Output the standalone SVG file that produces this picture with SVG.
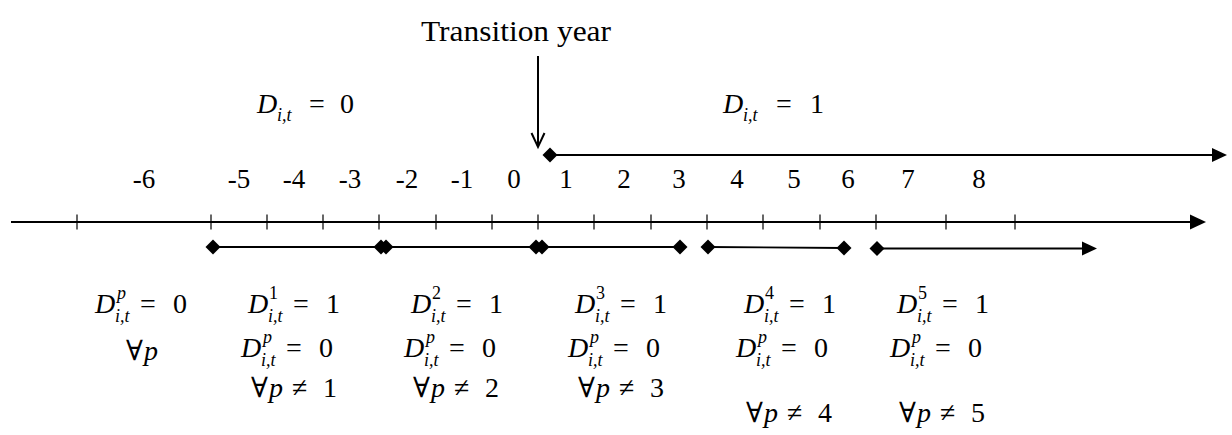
<svg xmlns="http://www.w3.org/2000/svg" width="1232" height="435" viewBox="0 0 1232 435">
<defs>
<style>
.bg{fill:#ffffff}
.ln{stroke:#000;stroke-width:2;fill:none}
.seg{stroke:#000;stroke-width:1.8;fill:none}
.tk{stroke:#000;stroke-width:1.2}
.hd{fill:#000;stroke:none}
.t{font-family:"Liberation Serif","Times New Roman",serif;font-size:30px;fill:#000}
.num{font-family:"Liberation Serif","Times New Roman",serif;font-size:27px;fill:#000;text-anchor:middle}
.m{font-family:"Liberation Serif","DejaVu Serif",serif;font-size:28px;fill:#000}
.i{font-style:italic}
.s{font-size:18px}
</style>
<polygon id="dia" points="-7.5,0 0,-7.5 7.5,0 0,7.5"/>
</defs>
<rect class="bg" x="0" y="0" width="1232" height="435"/>

<g id="title">
<text class="t" x="421" y="41" textLength="190" lengthAdjust="spacingAndGlyphs">Transition year</text>
</g>

<g id="top-labels">
<text class="m"><tspan class="i" x="257" y="113">D</tspan><tspan class="i s" x="277" y="121">i,t</tspan><tspan x="309" y="113">=</tspan><tspan x="340" y="113">0</tspan></text>
<text class="m"><tspan class="i" x="723" y="113">D</tspan><tspan class="i s" x="743" y="121">i,t</tspan><tspan x="776" y="113">=</tspan><tspan x="810" y="113">1</tspan></text>
</g>

<g id="year-numbers">
<text class="num" x="144" y="188">-6</text>
<text class="num" x="239" y="188">-5</text>
<text class="num" x="294" y="188">-4</text>
<text class="num" x="350" y="188">-3</text>
<text class="num" x="407" y="188">-2</text>
<text class="num" x="462" y="188">-1</text>
<text class="num" x="514" y="188">0</text>
<text class="num" x="566" y="188">1</text>
<text class="num" x="624" y="188">2</text>
<text class="num" x="679" y="188">3</text>
<text class="num" x="737" y="188">4</text>
<text class="num" x="794" y="188">5</text>
<text class="num" x="848" y="188">6</text>
<text class="num" x="908" y="188">7</text>
<text class="num" x="979" y="188">8</text>
</g>

<g id="connectors">
<line class="ln" x1="538" y1="56" x2="538" y2="146"/>
<polyline class="ln" points="531.5,133 538,147 544.5,133"/>
<line class="ln" x1="550" y1="155" x2="1214" y2="155"/>
<polygon class="hd" points="1212,148 1227,155 1212,162"/>
<use href="#dia" x="550" y="155"/>
<line class="ln" x1="11" y1="222" x2="1192" y2="222"/>
<polygon class="hd" points="1190,214.5 1206,222 1190,229.5"/>
<g id="ticks">
<line class="tk" x1="77" y1="214.5" x2="77" y2="229.5"/>
<line class="tk" x1="211" y1="214.5" x2="211" y2="229.5"/>
<line class="tk" x1="267" y1="214.5" x2="267" y2="229.5"/>
<line class="tk" x1="323" y1="214.5" x2="323" y2="229.5"/>
<line class="tk" x1="379" y1="214.5" x2="379" y2="229.5"/>
<line class="tk" x1="436" y1="214.5" x2="436" y2="229.5"/>
<line class="tk" x1="492" y1="214.5" x2="492" y2="229.5"/>
<line class="tk" x1="538" y1="214.5" x2="538" y2="229.5"/>
<line class="tk" x1="594" y1="214.5" x2="594" y2="229.5"/>
<line class="tk" x1="651" y1="214.5" x2="651" y2="229.5"/>
<line class="tk" x1="707" y1="214.5" x2="707" y2="229.5"/>
<line class="tk" x1="763" y1="214.5" x2="763" y2="229.5"/>
<line class="tk" x1="820" y1="214.5" x2="820" y2="229.5"/>
<line class="tk" x1="876" y1="214.5" x2="876" y2="229.5"/>
<line class="tk" x1="946" y1="214.5" x2="946" y2="229.5"/>
<line class="tk" x1="1015" y1="214.5" x2="1015" y2="229.5"/>
</g>
<line class="seg" x1="213" y1="247" x2="381" y2="247"/>
<use href="#dia" x="213" y="247"/><use href="#dia" x="381" y="247"/>
<line class="seg" x1="386" y1="247" x2="536" y2="247"/>
<use href="#dia" x="386" y="247"/><use href="#dia" x="536" y="247"/>
<line class="seg" x1="542" y1="247" x2="680" y2="247"/>
<use href="#dia" x="542" y="247"/><use href="#dia" x="680" y="247"/>
<line class="seg" x1="708" y1="247" x2="844" y2="248"/>
<use href="#dia" x="708" y="247"/><use href="#dia" x="844" y="248"/>
<line class="seg" x1="877" y1="248.5" x2="1084" y2="248.5"/>
<use href="#dia" x="877" y="248.5"/>
<polygon class="hd" points="1082,241.5 1097,248.5 1082,255.5"/>
</g>

<g id="period-0">
<text class="m"><tspan class="i" x="95" y="313">D</tspan><tspan class="i s" x="117" y="299">p</tspan><tspan class="i s" x="115" y="322">i,t</tspan><tspan x="140" y="313">=</tspan><tspan x="173" y="313">0</tspan></text>
<text class="m"><tspan x="126" y="360">∀</tspan><tspan class="i" x="144" y="360">p</tspan></text>
</g>

<g id="period-1">
<text class="m"><tspan class="i" x="248" y="313">D</tspan><tspan class="s" x="269" y="299">1</tspan><tspan class="i s" x="268" y="322">i,t</tspan><tspan x="293" y="313">=</tspan><tspan x="326" y="313">1</tspan></text>
<text class="m"><tspan class="i" x="241" y="357">D</tspan><tspan class="i s" x="263" y="343">p</tspan><tspan class="i s" x="261" y="366">i,t</tspan><tspan x="286" y="357">=</tspan><tspan x="319" y="357">0</tspan></text>
<text class="m"><tspan x="251" y="397">∀</tspan><tspan class="i" x="269" y="397">p</tspan><tspan x="292" y="397">≠</tspan><tspan x="323" y="397">1</tspan></text>
</g>

<g id="period-2">
<text class="m"><tspan class="i" x="411" y="313">D</tspan><tspan class="s" x="432" y="299">2</tspan><tspan class="i s" x="431" y="322">i,t</tspan><tspan x="456" y="313">=</tspan><tspan x="489" y="313">1</tspan></text>
<text class="m"><tspan class="i" x="404" y="357">D</tspan><tspan class="i s" x="426" y="343">p</tspan><tspan class="i s" x="424" y="366">i,t</tspan><tspan x="449" y="357">=</tspan><tspan x="482" y="357">0</tspan></text>
<text class="m"><tspan x="413" y="397">∀</tspan><tspan class="i" x="431" y="397">p</tspan><tspan x="454" y="397">≠</tspan><tspan x="485" y="397">2</tspan></text>
</g>

<g id="period-3">
<text class="m"><tspan class="i" x="575" y="313">D</tspan><tspan class="s" x="596" y="299">3</tspan><tspan class="i s" x="595" y="322">i,t</tspan><tspan x="620" y="313">=</tspan><tspan x="653" y="313">1</tspan></text>
<text class="m"><tspan class="i" x="568" y="357">D</tspan><tspan class="i s" x="590" y="343">p</tspan><tspan class="i s" x="588" y="366">i,t</tspan><tspan x="613" y="357">=</tspan><tspan x="646" y="357">0</tspan></text>
<text class="m"><tspan x="578" y="397">∀</tspan><tspan class="i" x="596" y="397">p</tspan><tspan x="619" y="397">≠</tspan><tspan x="650" y="397">3</tspan></text>
</g>

<g id="period-4">
<text class="m"><tspan class="i" x="744" y="313">D</tspan><tspan class="s" x="765" y="299">4</tspan><tspan class="i s" x="764" y="322">i,t</tspan><tspan x="789" y="313">=</tspan><tspan x="822" y="313">1</tspan></text>
<text class="m"><tspan class="i" x="736" y="357">D</tspan><tspan class="i s" x="758" y="343">p</tspan><tspan class="i s" x="756" y="366">i,t</tspan><tspan x="781" y="357">=</tspan><tspan x="814" y="357">0</tspan></text>
<text class="m"><tspan x="746" y="422">∀</tspan><tspan class="i" x="764" y="422">p</tspan><tspan x="787" y="422">≠</tspan><tspan x="818" y="422">4</tspan></text>
</g>

<g id="period-5">
<text class="m"><tspan class="i" x="897" y="313">D</tspan><tspan class="s" x="918" y="299">5</tspan><tspan class="i s" x="917" y="322">i,t</tspan><tspan x="942" y="313">=</tspan><tspan x="975" y="313">1</tspan></text>
<text class="m"><tspan class="i" x="890" y="357">D</tspan><tspan class="i s" x="912" y="343">p</tspan><tspan class="i s" x="910" y="366">i,t</tspan><tspan x="935" y="357">=</tspan><tspan x="968" y="357">0</tspan></text>
<text class="m"><tspan x="899" y="422">∀</tspan><tspan class="i" x="917" y="422">p</tspan><tspan x="940" y="422">≠</tspan><tspan x="971" y="422">5</tspan></text>
</g>
</svg>
